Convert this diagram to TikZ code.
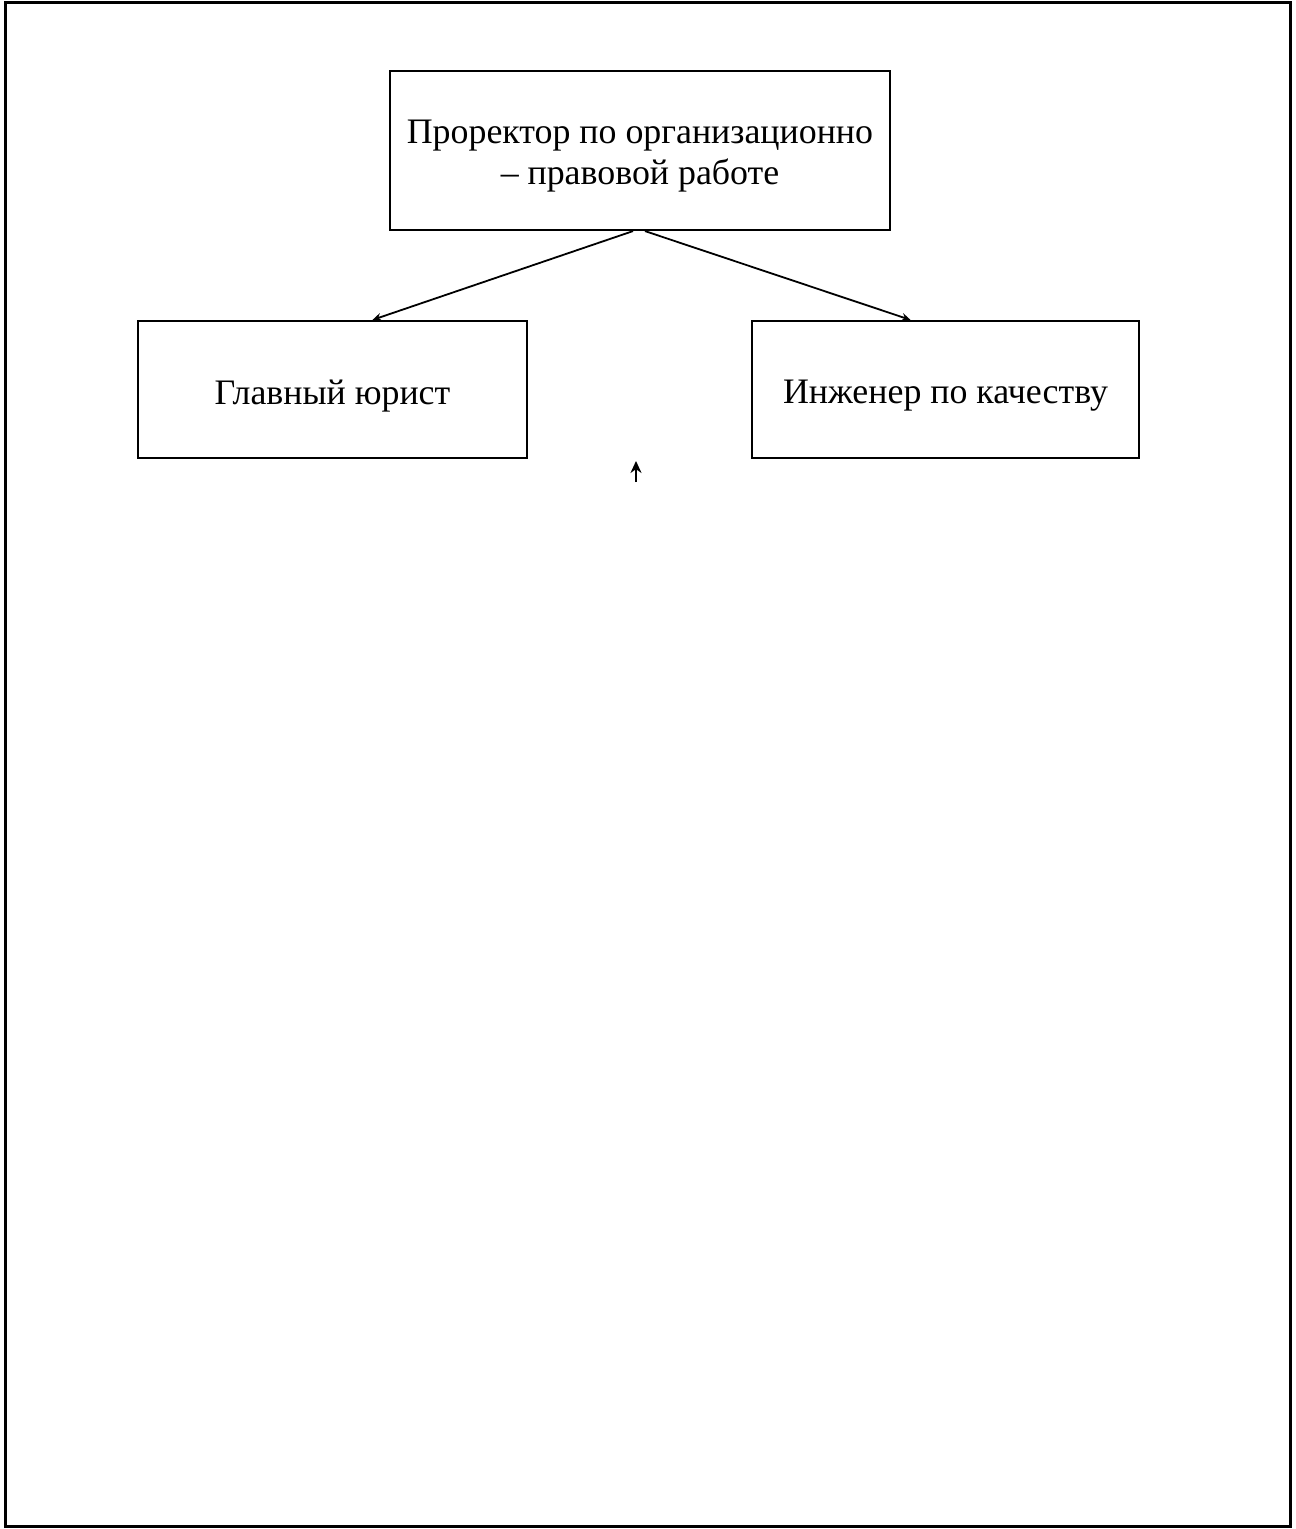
\documentclass[tikz,border=0pt]{standalone}
\usepackage{fontspec}
\setmainfont{Liberation Serif}
\usetikzlibrary{arrows.meta}
\begin{document}
\begin{tikzpicture}[x=1bp,y=-1bp,
  box/.style={draw,line width=2.2bp,inner sep=0pt},
  txt/.style={inner sep=0pt,align=center,font=\fontsize{36}{41}\selectfont},
  conn/.style={line width=1.8bp,-{Stealth[length=9bp,width=8bp]}}]
\useasboundingbox (0,0) rectangle (1295,1529);
\fill[white] (0,0) rectangle (1295,1529);
\draw[line width=3bp] (5,3) rectangle (1290,1526);
\node[box,minimum width=500bp,minimum height=159bp] (top) at (640,150.5) {};
\node[txt] (toptext) at (640,156) {Проректор по организационно\\– правовой работе};
\node[box,minimum width=389bp,minimum height=137bp] (left) at (332.5,389.5) {};
\node[txt] (lefttext) at (332.5,396) {Главный юрист};
\node[box,minimum width=387bp,minimum height=137bp] (right) at (945.5,389.5) {};
\node[txt] (righttext) at (945.5,396) {Инженер по качеству};
\draw[conn] ([xshift=-7bp]top.south) -- ([xshift=40bp]left.north);
\draw[conn] ([xshift=5bp]top.south) -- ([xshift=-35bp]right.north);
\coordinate (sa) at (636,482);
\coordinate (sb) at (636,461);
\draw[line width=2.6bp,-{Stealth[length=12bp,width=11bp]}] (sa) -- (sb);
\end{tikzpicture}
\end{document}
